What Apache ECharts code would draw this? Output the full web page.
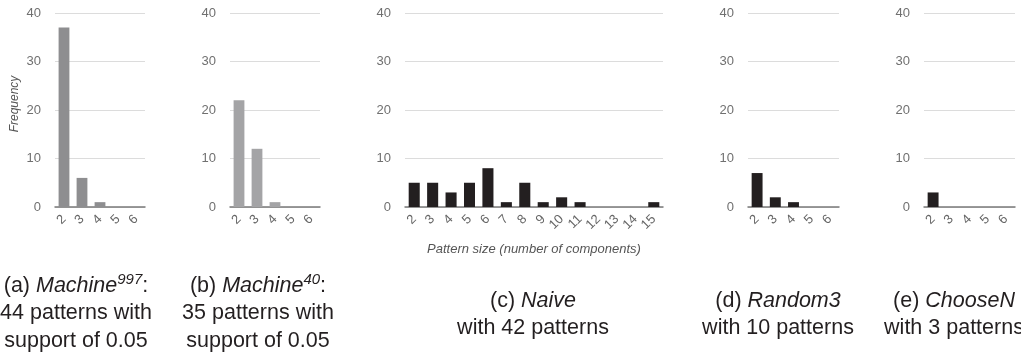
<!DOCTYPE html>
<html><head><meta charset="utf-8">
<script src="https://cdn.jsdelivr.net/npm/echarts@6/dist/echarts.min.js"></script>
<style>html,body{margin:0;padding:0;background:#fff}#c{width:1021px;height:358px}</style>
</head><body><div id="c"></div>
<script>
const catsSmall = ['2','3','4','5','6'];
const catsNaive = ['2','3','4','5','6','7','8','9','10','11','12','13','14','15'];
const machine997 = [37,6,1,0,0];
const machine40 = [22,12,1,0,0];
const naive = [5,5,3,5,8,1,5,1,2,1,0,0,0,1];
const random3 = [7,2,1,0,0];
const chooseN = [3,0,0,0,0];
const yMin = 0, yMax = 40, yStep = 10;

const FONT = 'Liberation Sans';
const panels = [
  {left:55, width:90, cats:catsSmall, data:machine997, color:'#8e8e90'},
  {left:230, width:90, cats:catsSmall, data:machine40, color:'#a4a4a6'},
  {left:405, width:258, cats:catsNaive, data:naive, color:'#231f20'},
  {left:748, width:91, cats:catsSmall, data:random3, color:'#231f20'},
  {left:924, width:91, cats:catsSmall, data:chooseN, color:'#231f20'}
];
const grid = [], xAxis = [], yAxis = [], series = [];
panels.forEach((p,i)=>{
  grid.push({left:p.left, width:p.width, top:13, height:194});
  xAxis.push({type:'category', gridIndex:i, data:p.cats,
    axisLine:{show:true, lineStyle:{color:'#7a7a7a', width:1.5}},
    axisTick:{show:false},
    axisLabel:{rotate:45, fontSize:13, color:'#666', fontFamily:FONT, margin:10, interval:0},
    name: i===2 ? 'Pattern size (number of components)' : '',
    nameLocation:'middle', nameGap:36,
    nameTextStyle:{fontStyle:'italic', fontSize:13, color:'#555', fontFamily:FONT}
  });
  yAxis.push({type:'value', gridIndex:i, min:yMin, max:yMax, interval:yStep,
    axisLine:{show:false}, axisTick:{show:false},
    axisLabel:{fontSize:13, color:'#707070', fontFamily:FONT, margin:14},
    splitLine:{lineStyle:{color:'#dcdcdc', width:1}}
  });
  series.push({type:'bar', xAxisIndex:i, yAxisIndex:i, data:p.data, barWidth:'60%',
    itemStyle:{color:p.color}, silent:true, animation:false});
});

const rich = {
  n:{fontSize:21.5, fontFamily:FONT, color:'#231f20', lineHeight:27.5},
  i:{fontSize:21.5, fontFamily:FONT, fontStyle:'italic', color:'#231f20', lineHeight:27.5},
  s:{fontSize:15, fontFamily:FONT, fontStyle:'italic', color:'#231f20', lineHeight:14, verticalAlign:'top'}
};
const captions = [
  {x:76, y:272, text:'{n|(a) }{i|Machine}{s|997}{n|:}\n{n|44 patterns with}\n{n|support of 0.05}'},
  {x:258, y:272, text:'{n|(b) }{i|Machine}{s|40}{n|:}\n{n|35 patterns with}\n{n|support of 0.05}'},
  {x:533, y:287, text:'{n|(c) }{i|Naive}\n{n|with 42 patterns}'},
  {x:778, y:287, text:'{n|(d) }{i|Random3}\n{n|with 10 patterns}'},
  {x:954, y:287, text:'{n|(e) }{i|ChooseN}\n{n|with 3 patterns}'}
];
const graphic = captions.map(c=>({type:'text', x:c.x, y:c.y,
  style:{text:c.text, rich:rich, align:'center', verticalAlign:'top', fontSize:21.5, fontFamily:FONT, fill:'#231f20'}}));
graphic.push({type:'text', x:15, y:104, rotation:Math.PI/2,
  style:{text:'Frequency', align:'center', verticalAlign:'middle', fontSize:12, fontStyle:'italic', fontFamily:FONT, fill:'#555'}});

const chart = echarts.init(document.getElementById('c'), null, {renderer:'canvas'});
chart.setOption({animation:false, backgroundColor:'#fff', grid, xAxis, yAxis, series, graphic});
</script></body></html>
